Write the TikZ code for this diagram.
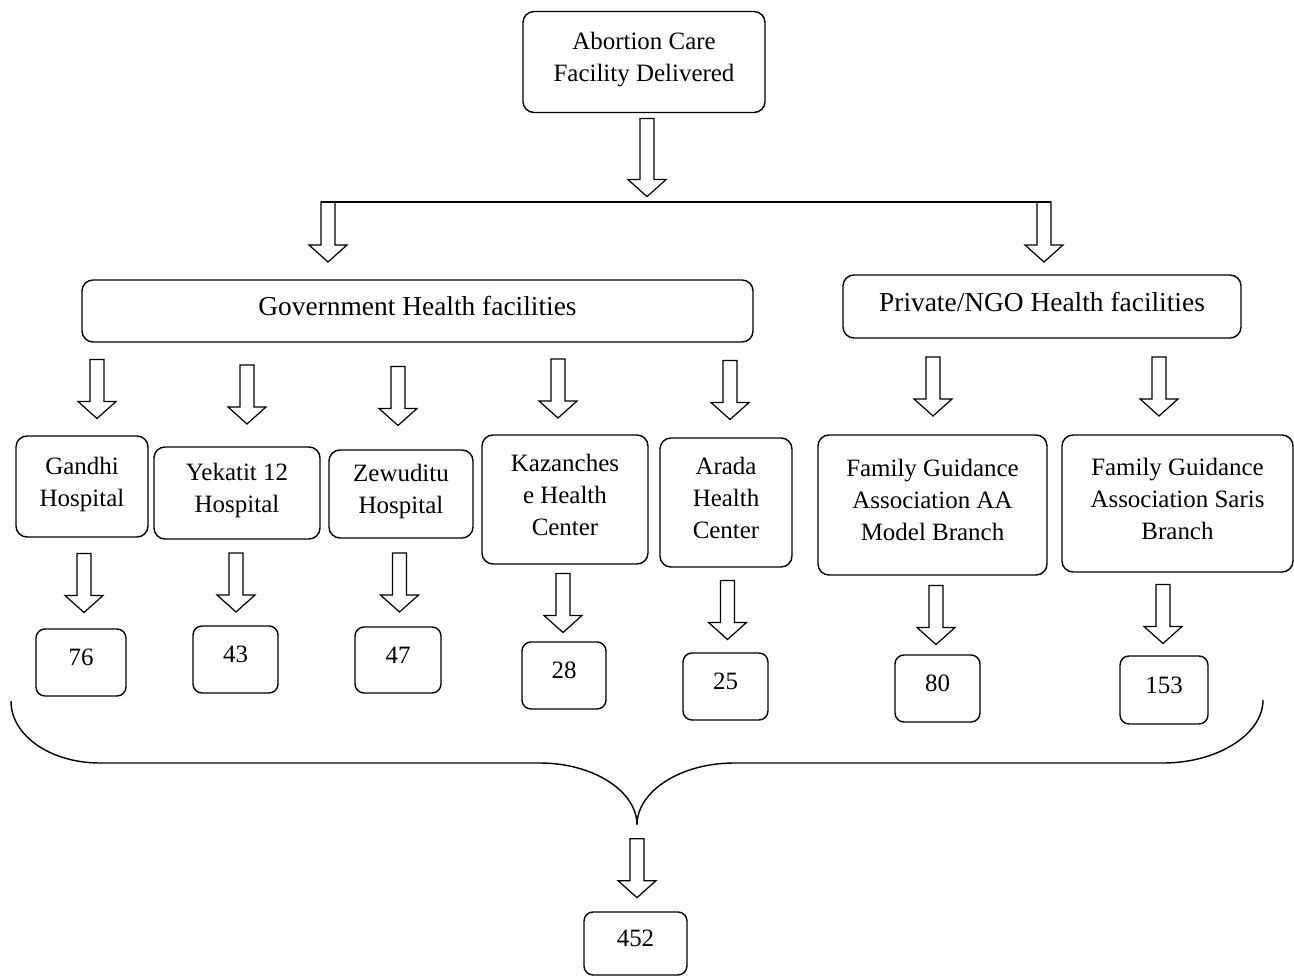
\documentclass[tikz,border=0pt]{standalone}
\usepackage{fontspec}
\setmainfont{Liberation Serif}
\usetikzlibrary{calc}

\tikzset{
  box/.style={draw, line width=0.8pt, rounded corners=0.22cm, align=center,
    inner sep=0pt, text depth=0.2cm, font=\fontsize{14.2}{18.2}\selectfont},
  sz/.style 2 args={minimum width=#1*0.02cm, minimum height=#2*0.02cm},
  group/.style={box, font=\fontsize{15.6}{19}\selectfont},
  count/.style={box, rounded corners=0.18cm},
  arrowline/.style={draw, line width=0.7pt, line join=miter},
  pics/harrow/.style={code={
    \draw[arrowline] (-7,0) -- (7,0) -- (7,#1-17) -- (19,#1-17) -- (0,#1)
      -- (-19,#1-17) -- (-7,#1-17) -- cycle;
  }}
}
% hollow arrow at x=#2, centred in the gap between #3 and #4
\newcommand{\blockarrow}[4][59]{%
  \coordinate (mid) at ($(#3)!0.5!(#4)$);
  \pic at ($(mid -| #2,0)+(0,-#1/2)$) {harrow=#1};
}

\begin{document}
\begin{tikzpicture}[x=0.02cm, y=-0.02cm]
 \useasboundingbox (0,0) rectangle (1294,976);

% Top
 \node[box, sz={242}{101}] (root) at (644,62) {Abortion Care\\Facility Delivered};

% Split bar
 \coordinate (barL) at (321,202);
 \coordinate (barR) at (1051,202);
 \draw[line width=0.8pt] (barL) -- (barR);
 \blockarrow[78]{647}{root.south}{barL}
 \pic at ($(barL)+(7,0)$) {harrow=60};
 \pic at ($(barR)+(-7,0)$) {harrow=60};

% Groups
 \node[group, sz={671}{62}] (gov) at (417.5,311) {Government Health facilities};
 \node[group, sz={398}{63}] (priv) at (1042,306.5) {Private/NGO Health facilities};

% Facilities
 \node[box, sz={132}{101}] (gandhi) at (82,486.5) {Gandhi\\Hospital};
 \node[box, sz={166}{92}] (yekatit) at (237,493) {Yekatit 12\\Hospital};
 \node[box, sz={144}{88}] (zewuditu) at (401,494) {Zewuditu\\Hospital};
 \node[box, sz={166}{129}] (kazanches) at (565,499.5) {Kazanches\\e Health\\Center};
 \node[box, sz={132}{129}] (arada) at (726,502.5) {Arada\\Health\\Center};
 \node[box, sz={229}{140}] (fgaAA) at (932.5,505) {Family Guidance\\Association AA\\Model Branch};
 \node[box, sz={231}{137}] (fgaSaris) at (1177.5,503.5) {Family Guidance\\Association Saris\\Branch};

% Counts
 \node[count, sz={90}{67}] (n76) at (81,662.5) {76};
 \node[count, sz={85}{67}] (n43) at (235.5,659.5) {43};
 \node[count, sz={86}{66}] (n47) at (398,660) {47};
 \node[count, sz={84}{67}] (n28) at (564,675.5) {28};
 \node[count, sz={85}{67}] (n25) at (725.5,686.5) {25};
 \node[count, sz={85}{67}] (n80) at (937.5,688.5) {80};
 \node[count, sz={88}{68}] (n153) at (1164,690) {153};
 \node[count, sz={103}{63}] (total) at (635.5,943.5) {452};

% Arrows
 \foreach \x/\a/\b in {97/gov/gandhi, 247/gov/yekatit, 398/gov/zewuditu,
   558/gov/kazanches, 730/gov/arada, 933/priv/fgaAA, 1159/priv/fgaSaris,
   84/gandhi/n76, 236/yekatit/n43, 399.5/zewuditu/n47, 563/kazanches/n28,
   727.5/arada/n25, 936/fgaAA/n80, 1163/fgaSaris/n153}
   \blockarrow{\x}{\a.south}{\b.north};

% Brace
 \coordinate (braceL) at (11,701);
 \coordinate (braceTip) at (637,825);
 \coordinate (braceR) at (1263,700);
 \draw[line width=0.8pt] (braceL) .. controls (11,736) and (51,763) .. (100,763)
   -- (540,763) .. controls (593,763) and (637,791) .. (braceTip)
   .. controls (637,791) and (681,763) .. (734,763)
   -- (1163,763) .. controls (1218,763) and (1263,734) .. (braceR);
 \blockarrow{637}{braceTip}{total.north}
\end{tikzpicture}
\end{document}
